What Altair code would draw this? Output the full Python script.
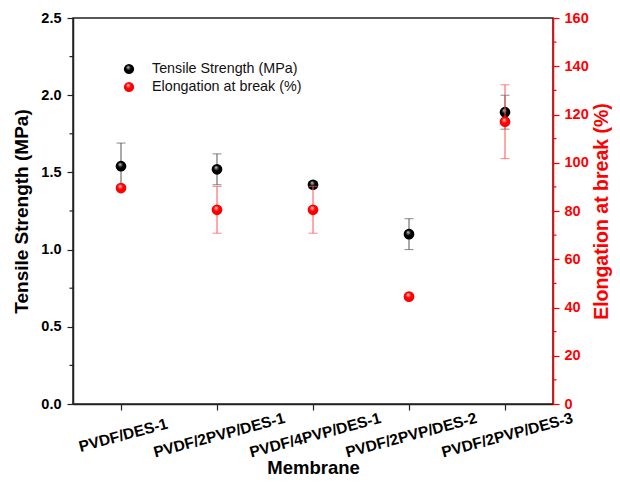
import altair as alt
import pandas as pd

membranes = ["PVDF/DES-1", "PVDF/2PVP/DES-1", "PVDF/4PVP/DES-1", "PVDF/2PVP/DES-2", "PVDF/2PVP/DES-3"]
tensile = [1.54, 1.52, 1.42, 1.10, 1.89]
tensile_err = [0.15, 0.10, 0.02, 0.10, 0.11]
elong = [89.5, 80.5, 80.5, 44.5, 117.0]
elong_err = [0.8, 9.7, 9.7, 0.8, 15.3]
left_ticks = [0, 0.5, 1.0, 1.5, 2.0, 2.5]
left_minor = [0.25, 0.75, 1.25, 1.75, 2.25]
right_ticks = [0, 20, 40, 60, 80, 100, 120, 140, 160]
right_minor = [10, 30, 50, 70, 90, 110, 130, 150]
legend_labels = ["Tensile Strength (MPa)", "Elongation at break (%)"]

FONT = "Arial, Liberation Sans, sans-serif"
W, H = 480, 386
RED = "#ff0000"
AX = "#222222"

df = pd.DataFrame({
    "membrane": membranes,
    "tensile": tensile,
    "t_lo": [v - e for v, e in zip(tensile, tensile_err)],
    "t_hi": [v + e for v, e in zip(tensile, tensile_err)],
    "elong": elong,
    "e_lo": [v - e for v, e in zip(elong, elong_err)],
    "e_hi": [v + e for v, e in zip(elong, elong_err)],
})

def sphere(base, hi):
    return alt.RadialGradient(
        gradient="radial",
        stops=[alt.GradientStop(color=hi, offset=0),
               alt.GradientStop(color=base, offset=0.45),
               alt.GradientStop(color=base, offset=1)],
        x1=0.4, y1=0.3, r1=0, x2=0.5, y2=0.5, r2=0.55)

black_sphere = sphere("#000000", "#d8d8d8")
red_sphere = sphere("#ff0000", "#ffe0e0")

x_enc = alt.X("membrane:N", sort=membranes,
              scale=alt.Scale(type="point", padding=0.5),
              axis=alt.Axis(title="Membrane", labelAngle=345, labelAlign="center",
                            labelBaseline="top", labelFontSize=15.5, labelFontWeight="bold",
                            labelColor="black", labelFont=FONT, labelPadding=18,
                            tickSize=6, tickColor=AX, domainColor=AX, domainWidth=1.5,
                            tickWidth=1.2, titleFontSize=18.5, titleFontWeight="bold",
                            titleFont=FONT, titleColor="black",
                            titleY=54, titleBaseline="top"))

t_scale = alt.Scale(domain=[0, 2.5], nice=False, zero=True)
e_scale = alt.Scale(domain=[0, 160], nice=False, zero=True)

base = alt.Chart(df)

t_err = base.mark_rule(color="#555555", strokeWidth=1).encode(
    x=x_enc, y=alt.Y("t_lo:Q", scale=t_scale, axis=alt.Axis(
        title="Tensile Strength (MPa)", values=left_ticks, format=".1f",
        labelFontWeight="bold", labelFontSize=14.5, labelFont=FONT, labelColor="black",
        tickSize=6, tickWidth=1.2, tickColor=AX, domainColor=AX, domainWidth=1.5,
        titleFontSize=19, titleFontWeight="bold", titleFont=FONT, titleColor="black",
        titlePadding=9, labelPadding=6, grid=False)),
    y2="t_hi:Q")
t_cap_hi = base.mark_tick(color="#555555", thickness=1, size=9).encode(
    x=x_enc, y=alt.Y("t_hi:Q", scale=t_scale))
t_cap_lo = base.mark_tick(color="#555555", thickness=1, size=9).encode(
    x=x_enc, y=alt.Y("t_lo:Q", scale=t_scale))
t_pts = base.mark_circle(size=115, opacity=1, color=black_sphere).encode(
    x=x_enc, y=alt.Y("tensile:Q", scale=t_scale))
t_minor = alt.Chart(pd.DataFrame({"v": left_minor})).mark_rule(
    color=AX, strokeWidth=1.2).encode(
    y=alt.Y("v:Q", scale=t_scale), x=alt.value(-3.5), x2=alt.value(0))

tensile_layer = alt.layer(t_err, t_cap_hi, t_cap_lo, t_minor, t_pts)

e_err = base.mark_rule(color="#ff5050", strokeWidth=1).encode(
    x=x_enc, y=alt.Y("e_lo:Q", scale=e_scale, axis=alt.Axis(
        title="Elongation at break (%)", orient="right", values=right_ticks,
        labelFontWeight="bold", labelFontSize=14.5, labelFont=FONT, labelColor=RED,
        tickSize=6, tickWidth=1.2, tickColor=RED, domainColor=RED, domainWidth=1.5,
        titleFontSize=19.5, titleFontWeight="bold", titleFont=FONT, titleColor=RED,
        titleAngle=270, titleBaseline="top", titlePadding=4, labelPadding=5, grid=False)),
    y2="e_hi:Q")
e_cap_hi = base.mark_tick(color="#ff5050", thickness=1, size=9).encode(
    x=x_enc, y=alt.Y("e_hi:Q", scale=e_scale))
e_cap_lo = base.mark_tick(color="#ff5050", thickness=1, size=9).encode(
    x=x_enc, y=alt.Y("e_lo:Q", scale=e_scale))
e_pts = base.mark_circle(size=115, opacity=1, color=red_sphere).encode(
    x=x_enc, y=alt.Y("elong:Q", scale=e_scale))
e_minor = alt.Chart(pd.DataFrame({"v": right_minor})).mark_rule(
    color=RED, strokeWidth=1.2).encode(
    y=alt.Y("v:Q", scale=e_scale), x=alt.value(W), x2=alt.value(W + 3.5))

elong_layer = alt.layer(e_err, e_cap_hi, e_cap_lo, e_minor, e_pts)

def leg_item(i, grad, ypx):
    d = pd.DataFrame({"label": [legend_labels[i]]})
    sym = alt.Chart(d).mark_circle(size=105, opacity=1, color=grad).encode(
        x=alt.value(56), y=alt.value(ypx))
    txt = alt.Chart(d).mark_text(align="left", baseline="middle", fontSize=14.3,
                                 font=FONT, color="#111").encode(
        x=alt.value(79), y=alt.value(ypx), text="label:N")
    return sym + txt

legend = alt.layer(leg_item(0, black_sphere, 51), leg_item(1, red_sphere, 69))

chart = alt.layer(tensile_layer, elong_layer, legend).resolve_scale(
    y="independent").properties(
    width=W, height=H,
    autosize=alt.AutoSizeParams(type="none"),
    padding={"left": 65, "top": 10, "right": 59, "bottom": 73},
).configure_view(stroke=AX, strokeWidth=1.5)

chart.save("out.html", embed_options={"renderer": "svg", "actions": False})
